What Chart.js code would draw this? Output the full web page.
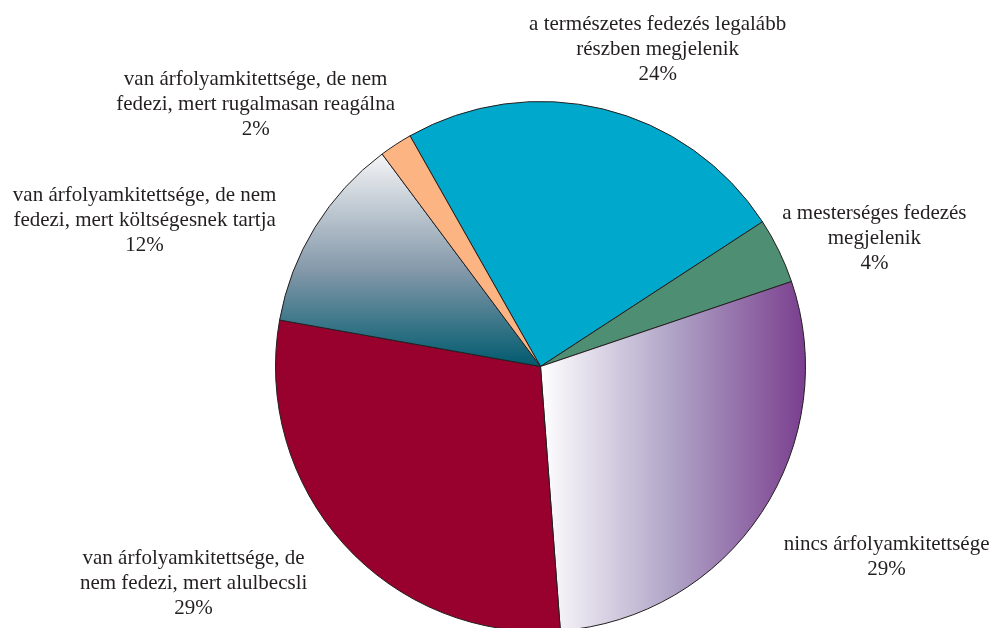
<!DOCTYPE html>
<html>
<head>
<meta charset="utf-8">
<script src="https://cdn.jsdelivr.net/npm/chart.js@4/dist/chart.umd.min.js"></script>
<style>
html,body{margin:0;padding:0;background:#fff;}
#wrap{width:992px;height:628px;overflow:hidden;position:relative;}
canvas{display:block;}
</style>
</head>
<body>
<div id="wrap"><canvas id="c" width="992" height="640" style="width:992px;height:640px"></canvas></div>
<script>
// ---- data ----
const categories = [
  "a természetes fedezés legalább\nrészben megjelenik",
  "a mesterséges fedezés\nmegjelenik",
  "nincs árfolyamkitettsége",
  "van árfolyamkitettsége, de\nnem fedezi, mert alulbecsli",
  "van árfolyamkitettsége, de nem\nfedezi, mert költségesnek tartja",
  "van árfolyamkitettsége, de nem\nfedezi, mert rugalmasan reagálna"
];
const shares = [24, 4, 29, 29, 12, 2];

// ---- styling (not data) ----
const solidColors = ["#00A9CC", "#4E8E72", null, "#98002E", null, "#FBB482"];
// label anchor offsets relative to pie centre, in units of outer radius
const labelOffsets = [
  [0.442, -1.196],
  [1.260, -0.483],
  [1.306, 0.717],
  [-1.309, 0.819],
  [-1.494, -0.551],
  [-1.075, -0.989]
];

function sliceColor(ctx) {
  const i = ctx.dataIndex;
  if (solidColors[i]) return solidColors[i];
  const chart = ctx.chart;
  const ca = chart.chartArea;
  if (!ca) return "#999";
  const cx = (ca.left + ca.right) / 2;
  const cy = (ca.top + ca.bottom) / 2;
  const r = (Math.min(ca.right - ca.left, ca.bottom - ca.top) - 1) / 2;
  const c = chart.ctx;
  if (i === 2) {
    const g = c.createLinearGradient(cx, 0, cx + r, 0);
    g.addColorStop(0, "#FFFFFF");
    g.addColorStop(0.5, "#AFA3C6");
    g.addColorStop(1, "#7A3E8E");
    return g;
  }
  // slate slice: vertical gradient from top of slice to centre
  const g = c.createLinearGradient(0, cy - r * 0.80, 0, cy);
  g.addColorStop(0, "#F4F4F6");
  g.addColorStop(0.55, "#8398A9");
  g.addColorStop(1, "#005A6E");
  return g;
}

const labelPlugin = {
  id: "sliceLabels",
  afterDatasetsDraw(chart) {
    const meta = chart.getDatasetMeta(0);
    const c = chart.ctx;
    c.save();
    c.font = "21px 'Liberation Serif', 'Times New Roman', serif";
    c.fillStyle = "#231F20";
    c.textAlign = "center";
    c.textBaseline = "middle";
    const lh = 25;
    meta.data.forEach((arc, i) => {
      const p = arc.getProps(["x", "y", "outerRadius"], true);
      const lines = categories[i].split("\n").concat([shares[i] + "%"]);
      const ax = p.x + labelOffsets[i][0] * p.outerRadius;
      const ay = p.y + labelOffsets[i][1] * p.outerRadius;
      const y0 = ay - (lines.length - 1) * lh / 2;
      lines.forEach((t, k) => c.fillText(t, ax, y0 + k * lh));
    });
    c.restore();
  }
};

new Chart(document.getElementById("c"), {
  type: "pie",
  data: {
    labels: categories,
    datasets: [{
      data: shares,
      backgroundColor: sliceColor,
      borderColor: "#231F20",
      borderWidth: 1,
      borderAlign: "center"
    }]
  },
  options: {
    responsive: false,
    animation: false,
    devicePixelRatio: 1,
    rotation: -29.5,
    layout: { padding: { top: 101, bottom: 8, left: 89, right: 0 } },
    plugins: {
      legend: { display: false },
      tooltip: { enabled: false }
    }
  },
  plugins: [labelPlugin]
});
</script>
</body>
</html>
